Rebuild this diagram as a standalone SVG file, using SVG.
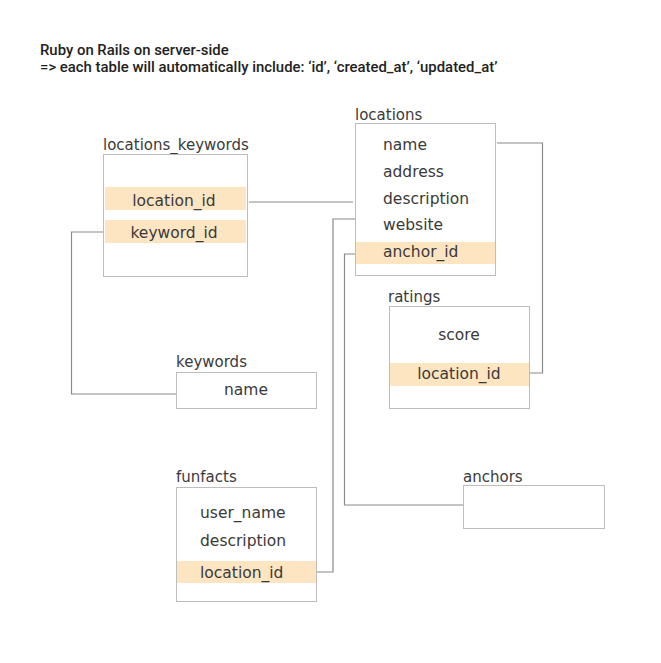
<svg xmlns="http://www.w3.org/2000/svg" width="661" height="663" viewBox="0 0 661 663">
<style>
.title{font-family:Roboto,"DejaVu Sans",sans-serif;font-weight:500;font-size:14.9px;fill:#222}
.lbl{font-family:"DejaVu Sans",sans-serif;font-size:15px;fill:#3a3a3a}
.fld{font-family:"DejaVu Sans",sans-serif;font-size:15.5px;fill:#3a3a3a}
.mid{text-anchor:middle}
.box{fill:#fff;stroke:#bdbdbd;stroke-width:1}
.hl{fill:#fde5c2}
.con{fill:none;stroke:#8a8a8a;stroke-width:1.2}
</style>
<rect width="661" height="663" fill="#fff"/>
<g id="title">
<text class="title" x="40" y="55">Ruby on Rails on server-side</text>
<text class="title" x="40" y="72">=&gt; each table will automatically include: ‘id’, ‘created_at’, ‘updated_at’</text>
</g>
<g id="connectors">
<polyline class="con" points="249,202 353,202"/>
<polyline class="con" points="357,219 333,219 333,572 317,572"/>
<polyline class="con" points="356,254 344.5,254 344.5,505 463,505"/>
<polyline class="con" points="497,143 542.5,143 542.5,373 527,373"/>
<polyline class="con" points="103,232 71.5,232 71.5,394 176,394"/>
</g>
<g id="locations_keywords">
<text class="lbl" x="103" y="150">locations_keywords</text>
<rect class="box" x="103.5" y="154.5" width="144" height="122"/>
<rect class="hl" x="105" y="187" width="141" height="23"/>
<rect class="hl" x="105" y="220" width="141" height="23"/>
<text class="fld mid" x="174" y="206">location_id</text>
<text class="fld mid" x="174" y="238">keyword_id</text>
</g>
<g id="locations">
<text class="lbl" x="355" y="120">locations</text>
<rect class="box" x="355.5" y="123.5" width="140" height="152"/>
<rect class="hl" x="356" y="242" width="139" height="22"/>
<text class="fld" x="383" y="150">name</text>
<text class="fld" x="383" y="177">address</text>
<text class="fld" x="383" y="204">description</text>
<text class="fld" x="383" y="230">website</text>
<text class="fld" x="383" y="257">anchor_id</text>
</g>
<g id="ratings">
<text class="lbl" x="388" y="302">ratings</text>
<rect class="box" x="389.5" y="306.5" width="140" height="102"/>
<rect class="hl" x="390" y="363" width="139" height="23"/>
<text class="fld mid" x="459" y="340">score</text>
<text class="fld mid" x="459" y="379">location_id</text>
</g>
<g id="keywords">
<text class="lbl" x="176" y="367">keywords</text>
<rect class="box" x="176.5" y="372.5" width="140" height="36"/>
<text class="fld mid" x="246" y="395">name</text>
</g>
<g id="funfacts">
<text class="lbl" x="176" y="482">funfacts</text>
<rect class="box" x="176.5" y="487.5" width="140" height="114"/>
<rect class="hl" x="177" y="561" width="139" height="22"/>
<text class="fld" x="200" y="518">user_name</text>
<text class="fld" x="200" y="546">description</text>
<text class="fld" x="200" y="578">location_id</text>
</g>
<g id="anchors">
<text class="lbl" x="463" y="482">anchors</text>
<rect class="box" x="463.5" y="485.5" width="141" height="43"/>
</g>
</svg>
